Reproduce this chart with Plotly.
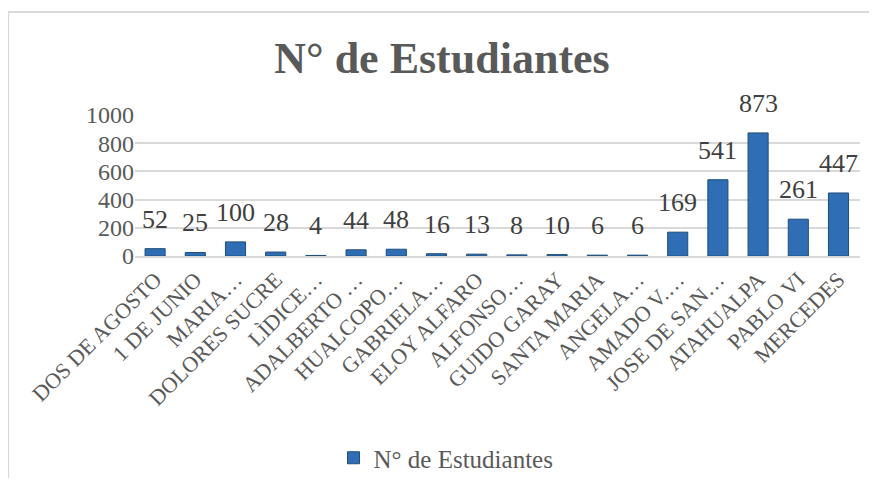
import plotly.graph_objects as go

# Data
escuelas = [
    "DOS DE AGOSTO", "1 DE JUNIO", "MARIA…", "DOLORES SUCRE", "LÌDICE…",
    "ADALBERTO …", "HUALCOPO…", "GABRIELA…", "ELOY ALFARO", "ALFONSO…",
    "GUIDO GARAY", "SANTA MARIA", "ANGELA…", "AMADO V.…", "JOSE DE SAN…",
    "ATAHUALPA", "PABLO VI", "MERCEDES",
]
estudiantes = [52, 25, 100, 28, 4, 44, 48, 16, 13, 8, 10, 6, 6, 169, 541, 873, 261, 447]
y_ticks = [0, 200, 400, 600, 800, 1000]

SERIE = "N° de Estudiantes"
FONT = "Liberation Serif"
GRIS = "#595959"

# the page body adds an 8px margin, so the figure is a bit smaller than the window
W, H = 861, 470

fig = go.Figure(
    go.Bar(
        x=escuelas,
        y=estudiantes,
        name=SERIE,
        marker=dict(color="#2F6EB5", line=dict(color="#1F4E79", width=1)),
        showlegend=True,
    )
)

# data labels sit a bit above each bar, like Excel's "outside end"
for escuela, n in zip(escuelas, estudiantes):
    fig.add_annotation(
        x=escuela, y=n, text=str(n), showarrow=False,
        xref="x", yref="y", yanchor="bottom", yshift=13,
        font=dict(family=FONT, size=26, color="#404040"),
    )

# chart frame (only the left and top edges are visible in the reference)
fig.add_shape(type="line", xref="paper", yref="paper",
              x0=-0.175, x1=1.03, y0=1.73, y1=1.73,
              line=dict(color="#d9d9d9", width=2))
fig.add_shape(type="line", xref="paper", yref="paper",
              x0=-0.175, x1=-0.175, y0=1.73, y1=-1.8,
              line=dict(color="#d9d9d9", width=2))

fig.update_layout(
    width=W,
    height=H,
    margin=dict(l=127, r=9, t=107, b=222),
    plot_bgcolor="white",
    paper_bgcolor="white",
    bargap=0.5,
    font=dict(family=FONT, color=GRIS),
    title=dict(
        text="<b>N° de Estudiantes</b>",
        x=434 / W, xref="container", xanchor="center",
        y=1 - 50 / H, yref="container", yanchor="middle",
        font=dict(family=FONT, size=44, color=GRIS),
    ),
    legend=dict(
        orientation="h",
        x=438 / W, xref="container", xanchor="center",
        y=1 - 450 / H, yref="container", yanchor="middle",
        font=dict(family=FONT, size=25, color=GRIS),
    ),
)
fig.update_xaxes(
    tickangle=-45,
    tickfont=dict(family=FONT, size=22, color=GRIS),
    showline=True, linecolor="#d9d9d9", linewidth=2,
    ticks="",
    automargin=False,
)
fig.update_yaxes(
    range=[0, 1000],
    tickvals=y_ticks,
    tickfont=dict(family=FONT, size=24, color=GRIS),
    showgrid=True, gridcolor="#d9d9d9", gridwidth=1.5,
    zeroline=False,
    ticks="", ticklen=0,
    automargin=False,
)

fig.write_html("out.html")
